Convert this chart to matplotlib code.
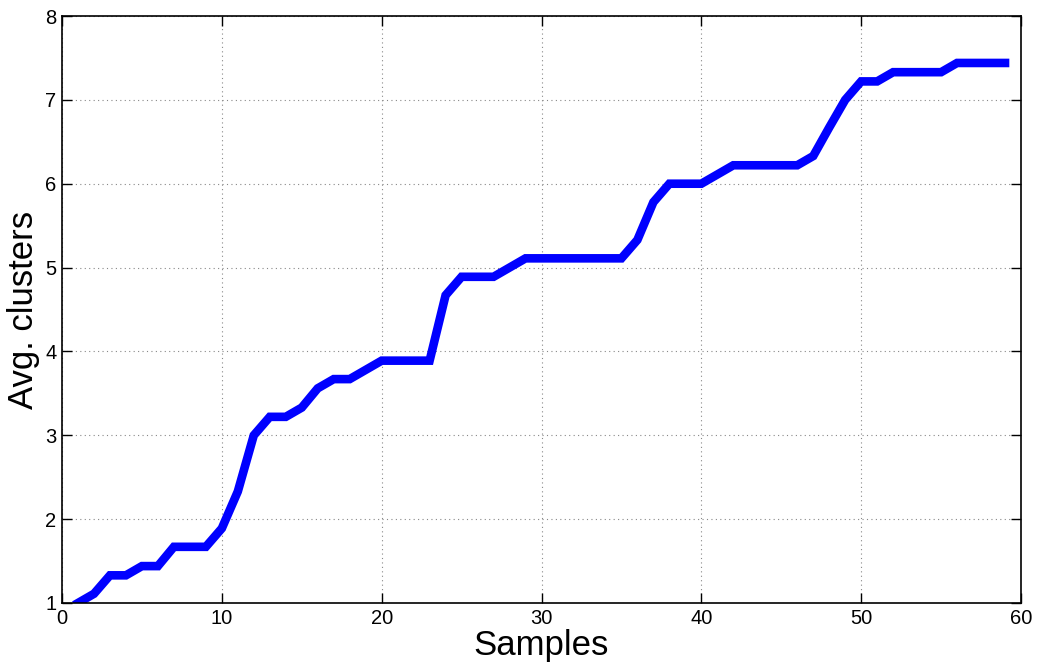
import matplotlib
matplotlib.use("Agg")
import matplotlib.pyplot as plt

samples = list(range(1, 60))
avg_clusters = [1.00, 1.11, 1.33, 1.33, 1.44, 1.44, 1.67, 1.67, 1.67, 1.89,
                2.33, 3.00, 3.22, 3.22, 3.33, 3.56, 3.67, 3.67, 3.78, 3.89,
                3.89, 3.89, 3.89, 4.67, 4.89, 4.89, 4.89, 5.00, 5.11, 5.11,
                5.11, 5.11, 5.11, 5.11, 5.11, 5.33, 5.78, 6.00, 6.00, 6.00,
                6.11, 6.22, 6.22, 6.22, 6.22, 6.22, 6.33, 6.67, 7.00, 7.22,
                7.22, 7.33, 7.33, 7.33, 7.33, 7.44, 7.44, 7.44, 7.44]
x_ticks = [0, 10, 20, 30, 40, 50, 60]
y_ticks = [1, 2, 3, 4, 5, 6, 7, 8]

plt.rcParams['font.family'] = ['Liberation Sans', 'DejaVu Sans']

fig = plt.figure(figsize=(10.4, 6.64), dpi=100)
ax = fig.add_axes([62/1040, 61/664, (1021-62)/1040, (603-16)/664])
ax.plot(samples, avg_clusters, color='#0000ff', linewidth=6.2, solid_joinstyle='miter')
ax.set_xlim(0, 60)
ax.set_ylim(1, 8)
ax.set_xticks(x_ticks)
ax.set_yticks(y_ticks)
ax.grid(True, linestyle=(0, (1, 3)), color='#888888', linewidth=0.8)
ax.tick_params(direction='in', length=7, width=1, labelsize=14.5, top=True, right=True, pad=4)
for s in ax.spines.values():
    s.set_linewidth(1.2)
ax.set_xlabel('Samples', fontsize=25, labelpad=1)
ax.set_ylabel('Avg. clusters', fontsize=25, labelpad=4)
fig.savefig('out.png', dpi=100)
